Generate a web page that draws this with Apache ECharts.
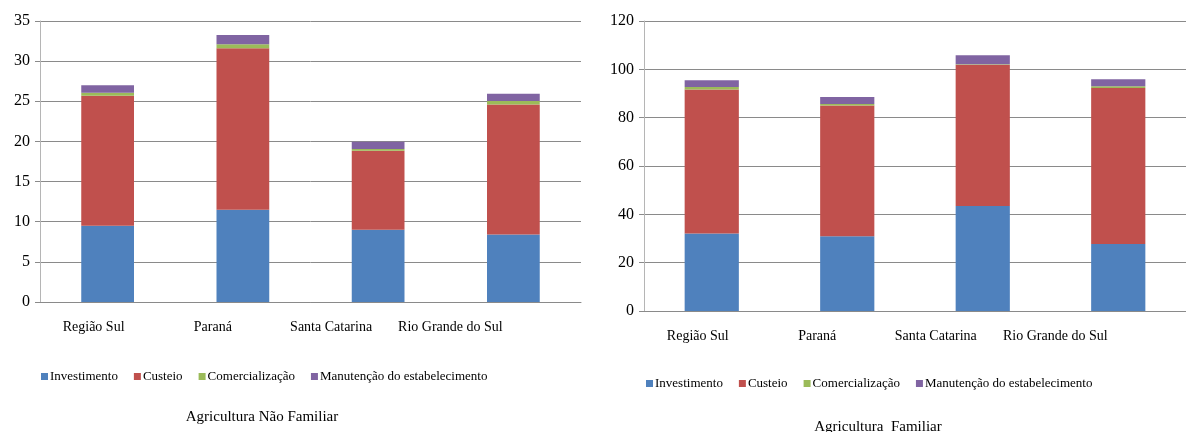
<!DOCTYPE html>
<html>
<head>
<meta charset="utf-8">
<script src="https://cdn.jsdelivr.net/npm/echarts@6/dist/echarts.min.js"></script>
<style>
  body { margin: 0; background: #fff; }
  #chart { width: 1186px; height: 432px; }
</style>
</head>
<body>
<div id="chart"></div>
<script>
// categorias
var regioes = ['Região Sul', 'Paraná', 'Santa Catarina', 'Rio Grande do Sul'];
var nomes = ['Investimento', 'Custeio', 'Comercialização', 'Manutenção do estabelecimento'];
var cores = ['#4F81BD', '#C0504D', '#9BBB59', '#8064A2'];

// Agricultura Não Familiar
var naoFamInvestimento = [9.5, 11.5, 9.0, 8.4];
var naoFamCusteio = [16.2, 20.1, 9.85, 16.2];
var naoFamComercializacao = [0.35, 0.5, 0.2, 0.45];
var naoFamManutencao = [0.95, 1.15, 0.9, 0.9];

// Agricultura Familiar
var famInvestimento = [32.1, 30.9, 43.5, 27.7];
var famCusteio = [59.6, 54.1, 58.4, 64.6];
var famComercializacao = [1.0, 0.7, 0.2, 0.7];
var famManutencao = [2.8, 2.9, 3.7, 2.9];

var fonte = 'Liberation Serif';
var cinza = '#8a8a8a';

// no original os rotulos ficam deslocados para a esquerda
var desloc = [14, 30, 47, 63];
var rich = {};
desloc.forEach(function (d, i) {
  rich['s' + i] = { fontFamily: fonte, fontSize: 14, color: '#000', padding: [0, d * 2, 0, 0] };
});

function eixoX(idx) {
  return {
    type: 'category', gridIndex: idx, data: regioes,
    axisLine: { lineStyle: { color: cinza } },
    axisTick: { lineStyle: { color: cinza }, length: 5 },
    axisLabel: {
      interval: 0, color: '#000', fontFamily: fonte, fontSize: 14, margin: 18,
      formatter: function (v, i) { return '{s' + i + '|' + v + '}'; },
      rich: rich
    }
  };
}
function eixoY(idx, max, step) {
  return {
    type: 'value', gridIndex: idx, min: 0, max: max, interval: step,
    axisLine: { show: true, lineStyle: { color: '#b5b5b5' } },
    axisTick: { show: true, length: 5, lineStyle: { color: cinza } },
    splitLine: { lineStyle: { color: cinza, width: 1 } },
    axisLabel: { color: '#000', fontFamily: fonte, fontSize: 16, margin: 10 }
  };
}

var grupos = [
  [naoFamInvestimento, naoFamCusteio, naoFamComercializacao, naoFamManutencao],
  [famInvestimento, famCusteio, famComercializacao, famManutencao]
];
var series = [];
grupos.forEach(function (g, gi) {
  g.forEach(function (vals, i) {
    series.push({
      name: nomes[i], type: 'bar', stack: 'g' + gi,
      xAxisIndex: gi, yAxisIndex: gi,
      barWidth: gi == 0 ? '39%' : '40%',
      itemStyle: { color: cores[i] },
      data: vals
    });
  });
});

function legenda(left, top) {
  return {
    left: left, top: top, data: nomes, icon: 'rect',
    itemWidth: 7, itemHeight: 7, itemGap: 16,
    textStyle: { fontFamily: fonte, fontSize: 13, color: '#000', padding: [0, 0, 0, -3] }
  };
}

var chart = echarts.init(document.getElementById('chart'));
chart.setOption({
  animation: false,
  color: cores,
  title: [
    { text: 'Agricultura Não Familiar', left: 257, top: 405, textAlign: 'center',
      textStyle: { fontFamily: fonte, fontSize: 15, fontWeight: 'normal', color: '#000' } },
    { text: 'Agricultura  Familiar', left: 873, top: 415, textAlign: 'center',
      textStyle: { fontFamily: fonte, fontSize: 15, fontWeight: 'normal', color: '#000' } }
  ],
  legend: [legenda(36, 365), legenda(641, 372)],
  grid: [
    { left: 40, top: 21, width: 541, height: 281 },
    { left: 644, top: 21, width: 551, height: 290 }
  ],
  xAxis: [eixoX(0), eixoX(1)],
  yAxis: [eixoY(0, 35, 5), eixoY(1, 120, 20)],
  series: series
});
</script>
</body>
</html>
